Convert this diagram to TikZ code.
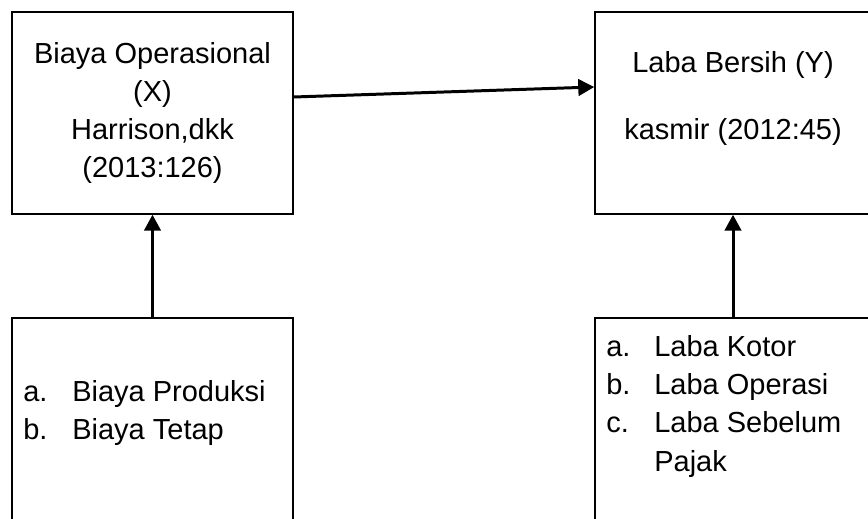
\documentclass[tikz,border=0pt]{standalone}
\usepackage{fontspec}
\setmainfont{Liberation Sans}
\usetikzlibrary{arrows.meta,positioning}

\begin{document}
\begin{tikzpicture}[x=0.02cm,y=-0.02cm,
  kotak/.style={draw,line width=0.85pt,minimum width=5.62cm,minimum height=4.04cm,inner sep=0pt},
  panah/.style={line width=1.7pt,-{Triangle[length=0.32cm,width=0.33cm]}},
  teks/.style={font=\fontsize{16.5}{21.8}\selectfont,inner sep=0pt}]
\useasboundingbox (0,0) rectangle (868,519);
\clip (0,0) rectangle (868,519);
\node[kotak,teks,align=center] (biaya) at (152.5,113)
  {Biaya Operasional\\(X)\\Harrison,dkk\\(2013:126)};
\node[kotak,minimum width=5.52cm] (laba) at (733,113) {};
\node[teks,align=center] (labateks) at (733,98.5)
  {Laba Bersih (Y)\\[16.2pt]kasmir (2012:45)};
\node[kotak,minimum height=4.44cm] (indX) at (152.5,429) {};
\node[kotak,minimum width=5.52cm,minimum height=4.44cm] (indY) at (733,429) {};
\node[teks,anchor=north west] (daftarX) at (23,374)
  {\begin{tabular}[t]{@{}p{0.98cm}@{}l@{}}
  a. & Biaya Produksi\\
  b. & Biaya Tetap
  \end{tabular}};
\node[teks,anchor=north west] (daftarY) at (606,329)
  {\begin{tabular}[t]{@{}p{0.96cm}@{}l@{}}
  a. & Laba Kotor\\
  b. & Laba Operasi\\
  c. & Laba Sebelum\\
     & Pajak
  \end{tabular}};
\draw[panah] ([yshift=0.32cm]biaya.east) -- ([yshift=0.52cm]laba.west);
\draw[panah] (indX.north) -- (biaya.south);
\draw[panah] (indY.north) -- (laba.south);
\end{tikzpicture}
\end{document}
